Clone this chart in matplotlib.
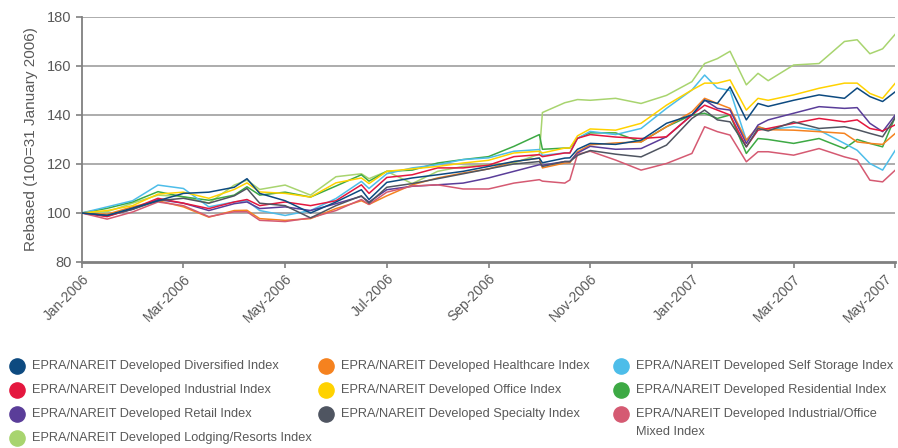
import numpy as np
import matplotlib.pyplot as plt
from matplotlib.transforms import ScaledTranslation

plt.rcParams['font.family'] = ['Liberation Sans', 'DejaVu Sans']

# months after the rebasing date (0 = Jan-2006, 16 = May-2007)
months = [0, 0.5, 1, 1.5, 2, 2.5, 3, 3.25, 3.5, 4, 4.5, 5, 5.5, 5.65, 6, 6.5, 7, 7.5, 8, 8.5,
          9, 9.06, 9.5, 9.6, 9.75, 10, 10.5, 11, 11.5, 12, 12.25, 12.5, 12.75, 13.07, 13.3, 13.5,
          14, 14.5, 15, 15.25, 15.5, 15.75, 16]
tick_pos = [0, 2, 4, 6, 8, 10, 12, 14, 16]
tick_labels = ["Jan-2006", "Mar-2006", "May-2006", "Jul-2006", "Sep-2006",
               "Nov-2006", "Jan-2007", "Mar-2007", "May-2007"]

diversified = [100, 99, 102, 105, 108, 108.5, 110.5, 114, 108, 105, 100, 104.5, 109.5, 105.5, 112.5,
               114.3, 115.6, 117, 119, 121, 122.4, 120.5, 122.4, 122.5, 126, 128.4, 128, 129.7, 136.6,
               140, 146, 144.7, 151.5, 138, 144.7, 143.5, 146, 148.2, 146.8, 151, 147.5, 145.5, 149.5]
industrial = [100, 98.5, 101.8, 106, 104, 101.8, 104.5, 105.5, 103, 104.5, 103, 105, 111.5, 108, 114.5,
              115.6, 118.4, 118.4, 119.5, 123, 123.8, 123, 124.5, 124.5, 130.5, 132, 131, 130.4, 131.1,
              140, 144, 142, 140, 127, 133.8, 134.5, 136.6, 138.6, 137.2, 138, 134.5, 133.5, 136]
retail = [100, 98.8, 101.5, 105.5, 104, 101, 103.8, 104.5, 101.8, 102.5, 101, 103.8, 106.8, 104.5, 109.5,
          110.9, 111.5, 112.2, 114.3, 117, 119.7, 119.5, 121, 121, 124.5, 127.2, 126, 126.3, 131.1,
          140, 146.1, 142.7, 142, 128.4, 135.9, 138, 140.7, 143.4, 142.7, 143, 136.6, 133.2, 140]
lodging = [100, 100.5, 104, 107.3, 106.6, 104, 111.4, 113.4, 109.6, 111.4, 107.3, 114.8, 116, 114, 117,
           112, 117, 119, 119.7, 120.4, 124, 141, 145, 145.5, 146.3, 146, 146.8, 144.7, 148,
           153.6, 161, 163, 166, 152.3, 157, 154, 160.4, 161, 170, 170.7, 165, 167, 173]
healthcare = [100, 99.5, 102.5, 105, 102.5, 98.3, 101, 101.1, 97.7, 97, 97.7, 101.8, 105, 103.5, 107,
              111.5, 114.3, 116.3, 118, 121, 122.4, 118.4, 120.4, 120.5, 125, 127.8, 128.6, 129, 135.2,
              141.3, 146.8, 144.7, 142.7, 129.7, 135.2, 134, 133.8, 133.2, 132.5, 129, 128.4, 128, 132.5]
office = [100, 101, 103, 107.7, 108.5, 106, 109.6, 112.3, 108.6, 108, 106.5, 112.3, 114.3, 112, 117,
          118, 119, 120.4, 121.5, 124.5, 125.2, 124.5, 126.5, 126.5, 131.5, 134.3, 133.8, 136.6, 144,
          150.2, 153, 153, 154.3, 142, 146.8, 146, 148.2, 150.9, 153, 153, 148.8, 146.8, 153]
specialty = [100, 99, 101.5, 105, 106, 104, 107, 110, 104, 103, 98, 103, 107, 104, 110.5,
             112, 114, 116, 118, 120, 121, 119, 121, 121, 123.5, 125.5, 124, 122.9, 127.7,
             138.6, 142, 138, 137.2, 127, 134.5, 133.5, 137.2, 134.5, 135.2, 134, 132.5, 131.1, 139]
self_storage = [100, 102.5, 105, 111.4, 110, 102.5, 104.5, 105, 101, 99, 101, 105.9, 112.9, 110, 116,
                118.4, 119.7, 121.8, 122.5, 125.2, 125.9, 123.5, 124.5, 124.5, 130.5, 133.3, 132, 134.5, 142.7,
                150.2, 156.3, 151, 150, 129.7, 135.2, 134, 135.2, 133.8, 128.4, 125.6, 120.2, 117.5, 125.6]
residential = [100, 101.9, 104.5, 108.7, 106.6, 105.2, 107.3, 110.7, 107.3, 108.5, 106.5, 111, 115.6, 113, 117,
               117.5, 120.4, 121.8, 123, 127.2, 132, 126, 126.5, 126.5, 130.5, 132.7, 132.7, 129, 135.2,
               140, 140.7, 138.6, 140, 124.3, 130.4, 130, 128.4, 130.4, 126.3, 130, 128.4, 127, 139.3]
ind_office = [100, 97.5, 100.4, 104.5, 103, 98.5, 100.5, 100.5, 97, 96.5, 98, 101, 105.5, 103.5, 108.5,
              111, 111.5, 109.8, 109.8, 112.2, 113.6, 113, 112.2, 113.5, 124, 125.2, 121.6, 117.5, 120.2,
              124.3, 135.2, 133.2, 131.8, 120.9, 125, 125, 123.6, 126.3, 122.9, 121.6, 113.4, 112.7, 117.5]

names = ["EPRA/NAREIT Developed Diversified Index", "EPRA/NAREIT Developed Industrial Index",
         "EPRA/NAREIT Developed Retail Index", "EPRA/NAREIT Developed Lodging/Resorts Index",
         "EPRA/NAREIT Developed Healthcare Index", "EPRA/NAREIT Developed Office Index",
         "EPRA/NAREIT Developed Specialty Index", "EPRA/NAREIT Developed Self Storage Index",
         "EPRA/NAREIT Developed Residential Index",
         "EPRA/NAREIT Developed Industrial/Office\nMixed Index"]
series = [diversified, industrial, retail, lodging, healthcare, office, specialty,
          self_storage, residential, ind_office]
colors = ["#0d4a80", "#e4173e", "#5a3d99", "#a8d46f", "#f5821f", "#ffd200", "#4f5561",
          "#4dbde9", "#3da944", "#d55a72"]

txt = "#595959"
fig = plt.figure(figsize=(8.98, 4.48), dpi=100)
ax = fig.add_axes([0.091, 0.4152, 0.906, 0.5469])

draw_order = [3, 8, 7, 4, 2, 1, 9, 5, 6, 0]
for i in draw_order:
    ax.plot(months, series[i], color=colors[i], lw=1.1, zorder=3)

ax.set_xlim(0, 16)
ax.set_ylim(80, 180)
ax.set_yticks(range(80, 181, 20))
ax.set_xticks(tick_pos)
ax.set_xticklabels(tick_labels, rotation=45, ha="right", rotation_mode="anchor")
ax.tick_params(axis="both", colors="#808080", labelcolor=txt, length=4, width=1.2)
ax.tick_params(axis="y", labelsize=10.5)
ax.tick_params(axis="x", labelsize=10, pad=3)
# nudge the last date label so it stays inside the picture
last = ax.get_xticklabels()[-1]
last.set_transform(last.get_transform() + ScaledTranslation(-0.1, 0, fig.dpi_scale_trans))
for y in range(100, 181, 20):
    ax.axhline(y, color="#a6a6a6", lw=1.3, zorder=1)
for s in ["top", "right"]:
    ax.spines[s].set_visible(False)
ax.spines["left"].set_color("#808080")
ax.spines["left"].set_linewidth(1.3)
ax.spines["bottom"].set_color("#808080")
ax.spines["bottom"].set_linewidth(2)
ax.set_ylabel("Rebased (100=31 January 2006)", color=txt, fontsize=11, labelpad=6)

# legend drawn on an overlay in pixel units
lg = fig.add_axes([0, 0, 1, 1])
lg.set_xlim(0, 898)
lg.set_ylim(448, 0)
lg.axis("off")
col_x = [17, 326, 621]
row_y = [366, 390, 414, 438]
slots = [(0, 0), (0, 1), (0, 2), (0, 3), (1, 0), (1, 1), (1, 2), (2, 0), (2, 1), (2, 2)]
for (c, r), name, col in zip(slots, names, colors):
    lg.scatter(col_x[c], row_y[r], s=120, color=col, zorder=3)
    for k, line in enumerate(name.split("\n")):
        lg.text(col_x[c] + 15, row_y[r] + 18 * k, line, color=txt, fontsize=9.2,
                va="center", ha="left")

fig.savefig("out.png", dpi=100)
